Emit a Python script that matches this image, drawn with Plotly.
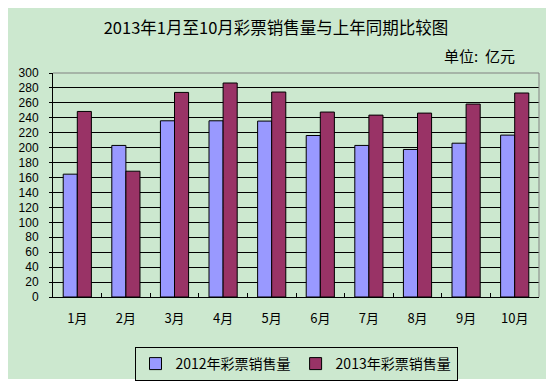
import plotly.graph_objects as go

months = ["1月", "2月", "3月", "4月", "5月", "6月", "7月", "8月", "9月", "10月"]
sales_2012 = [164.5, 203, 236, 236, 235.6, 216.3, 203, 197.6, 206, 216.8]
sales_2013 = [248.5, 168.5, 274, 286.6, 274.5, 247.7, 243.6, 246.3, 258.4, 273.2]
series_names = ["2012年彩票销售量", "2013年彩票销售量"]
y_ticks = list(range(0, 301, 20))
title_text = "2013年1月至10月彩票销售量与上年同期比较图"
unit_text = "单位:  亿元"

FONT = "SimSun, 'Noto Sans CJK SC', sans-serif"
NUMFONT = "'Liberation Sans', Arial, sans-serif"
BG = "#CCE8CF"

# the page body keeps its default 8px margin, so the figure origin is at (8, 8)
OFF = 8
W, H = 554 - OFF, 384 - OFF
L, R, T, B = 53 - OFF, 15, 73 - OFF, 87
pw, ph = W - L - R, H - T - B


def px_x(x):
    return (x - OFF - L) / pw


def px_y(y):
    return (H - B - (y - OFF)) / ph


fig = go.Figure()
fig.add_trace(go.Bar(x=months, y=sales_2012, name=series_names[0],
                     marker=dict(color="#9999FF", line=dict(color="black", width=1))))
fig.add_trace(go.Bar(x=months, y=sales_2013, name=series_names[1],
                     marker=dict(color="#993366", line=dict(color="black", width=1))))

fig.update_layout(
    width=W, height=H,
    margin=dict(l=L, r=R, t=T, b=B, autoexpand=False),
    paper_bgcolor="white",
    plot_bgcolor="rgba(0,0,0,0)",
    barmode="group", bargap=0.42, bargroupgap=0,
    font=dict(family=FONT, size=13, color="black"),
    title=dict(text=title_text, x=(276 - OFF) / W, xref="container", xanchor="center",
               y=1 - (28 - OFF) / H, yref="container", yanchor="middle",
               font=dict(family=FONT, size=16.5, color="black")),
    xaxis=dict(showline=True, linecolor="black", linewidth=1, automargin=False,
               tickson="boundaries", ticks="inside", ticklen=4, tickcolor="black",
               showgrid=False, ticklabelstandoff=9,
               tickfont=dict(family=FONT, size=13, color="black")),
    yaxis=dict(range=[0, 300], tickvals=y_ticks, showline=True, linecolor="black",
               linewidth=1, showgrid=True, gridcolor="black", gridwidth=1,
               zeroline=False, ticks="outside", ticklen=3, tickcolor="black",
               ticklabelstandoff=8, automargin=False,
               tickfont=dict(family=NUMFONT, size=12, color="black")),
    legend=dict(orientation="h", x=0.5, xanchor="center",
                y=1 - (347 - OFF) / H, yref="container", yanchor="top",
                bgcolor=BG, bordercolor="black", borderwidth=1,
                font=dict(family=FONT, size=14, color="black"),
                itemwidth=30, tracegroupgap=0),
    shapes=[
        dict(type="rect", xref="paper", yref="paper", layer="below",
             x0=px_x(5), x1=px_x(549), y0=px_y(379), y1=px_y(5),
             fillcolor=BG, line=dict(width=0)),
        dict(type="line", xref="paper", yref="paper", layer="above",
             x0=0, x1=1, y0=1, y1=1, line=dict(color="#808080", width=1)),
        dict(type="line", xref="paper", yref="paper", layer="above",
             x0=1, x1=1, y0=0, y1=1, line=dict(color="#808080", width=1)),
    ],
    annotations=[
        dict(text=unit_text, xref="paper", yref="paper", x=px_x(517), y=px_y(56),
             xanchor="right", yanchor="middle", showarrow=False,
             font=dict(family=FONT, size=15, color="black")),
    ],
)

fig.write_html("out.html")
